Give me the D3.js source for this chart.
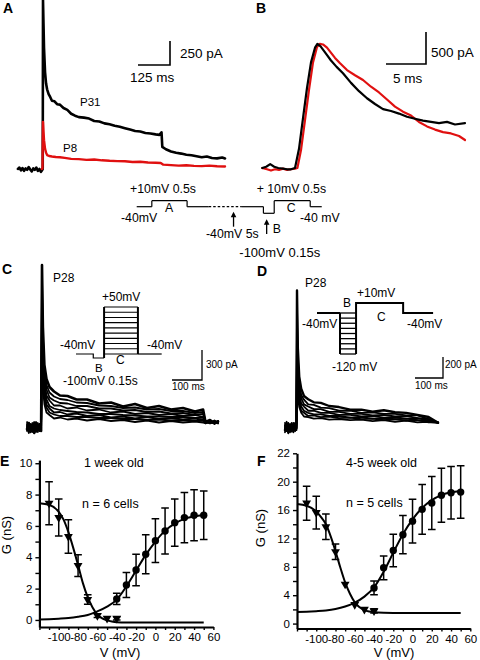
<!DOCTYPE html>
<html><head><meta charset="utf-8">
<script src="https://cdn.jsdelivr.net/npm/d3@7"></script>
<style>
body{margin:0;background:#fff}
svg{display:block}
text{font-family:Arial,"Liberation Sans",Helvetica,sans-serif;fill:#000}
</style>
</head><body>
<svg id="fig" width="480" height="660"></svg>
<script>
// ================= DATA =================
// Panel A : currents (pA) vs time (ms)
const aBlackT = [-98,-92,-86,-80,-74,-68,-62,-56,-50,-44,-38,-32,-26,-20,-14,-8,-3,-1,0,2,4,8,12,16,22,28,35,45,55,66,80,95,110,125,140,160,180,200,220,240,260,280,300,320,340,360,380,400,420,440,455,463,466,480,500,520,540,560,580,600,620,640,660,680,700,711];
const aBlackI = [-10,5,-25,0,-30,-5,-20,10,-15,-35,-5,-20,5,-30,-10,-40,-20,-10,1750,1500,1250,1000,880,820,770,740,700,695,665,660,625,605,565,545,530,525,515,490,485,465,455,440,430,415,400,385,380,365,360,350,345,372,220,195,172,158,150,138,132,122,112,120,104,100,110,100];
const aRedT = [-5,-2,0,2,4,8,12,16,24,35,50,66,85,110,140,170,200,230,260,290,320,350,380,410,440,460,470,500,530,560,590,620,650,680,711];
const aRedI = [-10,-5,480,380,290,200,160,135,125,120,115,112,105,95,92,85,88,80,75,72,70,62,65,58,55,52,35,30,25,28,22,20,25,18,15];

// Panel B : currents (pA) vs time (ms)
const bBlackT = [-4.1,-3.6,-3.1,-2.6,-2.1,-1.5,-1,-0.5,0,0.5,1,1.5,2,2.5,2.8,3.2,3.8,4.5,5.2,6,7,8,9,10,11,12,13,14,15,16,17,18,19,20,21.25];
const bBlackI = [0,20,60,20,0,-10,-20,-20,0,300,780,1250,1650,1880,1940,1900,1800,1680,1580,1480,1330,1200,1090,1000,920,890,850,800,770,740,720,700,720,680,700];
const bRedT = [-4.1,-3.5,-3,-2.5,-2,-1.5,-1,-0.5,0,0.3,0.75,1.25,1.75,2.25,2.75,3.1,3.5,4,5,5.6,6.5,7.5,8.5,9.5,10.5,11.5,12.5,13.5,14.5,15.5,16.5,17.5,18.5,19.5,20.5,21.25];
const bRedI = [0,-20,-40,-20,-30,-10,-30,-20,-10,0,280,750,1220,1650,1890,1940,1930,1880,1720,1640,1530,1450,1375,1270,1180,1070,960,880,820,720,650,600,560,540,500,437];

// Panel C : family of currents (pA) vs time (ms)
const cT = [-50,-44,-38,-32,-26,-20,-14,-8,-3,0,3,8,15,25,40,60,85,115,150,190,230,270,310,350,390,430,470,510,537,545,560,575,587];
const cTr1 = [-20,40,-50,10,-60,30,-30,20,-40,1620,1000,620,480,400,355,315,310,275,275,235,245,205,230,190,210,175,190,155,175,50,70,40,55];
const cTr2 = [30,-40,20,-20,50,-50,10,-30,25,1500,900,560,420,345,305,280,270,245,240,215,210,190,195,175,180,160,160,140,150,60,35,65,45];
const cTr3 = [-40,10,-30,40,-20,0,-50,30,-10,1350,820,500,375,295,265,240,235,210,210,185,185,165,170,150,155,135,140,120,130,40,55,30,60];
const cTr4 = [10,-60,30,-10,-30,50,-20,0,20,1200,720,440,315,265,215,215,185,195,165,175,145,155,130,140,120,130,110,120,100,55,40,60,35];
const cTr5 = [-30,20,-10,-50,30,-20,40,-40,0,1050,640,380,275,210,185,170,160,150,145,130,130,120,115,105,105,100,100,90,95,45,60,40,50];
const cTr6 = [50,-20,-40,20,-10,-40,10,30,-30,900,560,330,225,185,145,150,125,135,110,120,95,105,85,100,80,90,75,85,70,35,50,55,40];
const cTr7 = [-10,30,10,-40,40,-10,-30,-20,30,780,480,280,195,145,125,110,110,100,100,90,90,80,80,70,75,65,70,60,65,50,40,45,60];
const cTr8 = [20,-30,-20,30,-50,10,20,-40,-20,650,400,230,145,120,85,95,75,85,65,80,60,70,50,65,45,60,45,55,45,40,55,35,50];

// Panel D : family of currents (pA) vs time (ms)
const dT = [-43,-37,-31,-25,-19,-13,-7,-2,0,3,8,15,25,40,60,85,115,150,190,230,270,310,350,390,430,470,504];
const dTr1 = [-30,30,-50,10,-40,20,-20,-10,1300,750,480,365,295,265,235,230,200,190,165,165,145,160,140,135,115,95,40];
const dTr2 = [20,-40,0,-30,40,-50,10,30,1150,660,420,305,260,215,210,185,180,155,155,135,140,125,125,110,110,75,45];
const dTr3 = [-20,10,-60,30,-10,0,-40,20,1000,580,370,275,215,195,170,170,145,145,125,125,110,115,100,105,85,75,40];
const dTr4 = [40,-20,20,-40,0,30,-30,-20,850,500,320,225,195,155,155,135,135,115,115,100,105,90,95,80,85,60,45];
const dTr5 = [-50,30,-10,10,-30,-20,40,0,720,430,270,195,155,135,120,120,105,105,90,95,80,85,75,80,65,60,40];
const dTr6 = [10,-30,40,-50,20,-10,-20,30,600,360,230,155,135,105,110,95,100,85,90,75,80,65,75,60,65,45,45];
const dTr7 = [-10,50,-20,0,-40,40,10,-30,500,300,190,135,100,95,80,85,70,75,65,70,55,65,50,60,45,50,40];

// Voltage protocols
const protoLevels = [-40,10,-40,-40,-40,-100,10,-40];
const protoDurs   = [210,490,300,460,300,150,500,160];
const protoDashed = [0,0,0,1,0,0,0,0];
const cInDurs = [240,150,470,330];
const cInLevels = [-40,-30,-20,-10,0,10,20,30,40,50];
const dInDurs = [215,150,440,280];
const dInLevels = [-120,-110,-100,-90,-80,-70,-60,-50,-40];

// Panel E (1 week old)
const eActV = [-40,-30,-20,-10,0,10,20,30,40,50];
const eActG = [1.34,2.23,3.19,4.19,5.06,5.68,6.21,6.53,6.68,6.68];
const eActErr = [0.36,0.79,1.0,1.25,1.4,1.47,1.5,1.6,1.63,1.55];
const eInV = [-110,-100,-90,-80,-70,-60,-50,-40];
const eInG = [7.45,6.53,5.32,3.47,1.3,0.28,0.1,0.1];
const eInErr = [1.37,1.18,1.07,0.69,0.3,0.12,0,0.1];
const eActFitV = [-120,-110,-100,-90,-80,-70,-60,-50,-40,-30,-20,-10,0,10,20,30,40,50];
const eActFitG = [0.03,0.05,0.08,0.12,0.2,0.32,0.55,0.85,1.3,2.15,3.15,4.15,5.0,5.7,6.15,6.45,6.6,6.7];
const eInFitV = [-120,-110,-100,-95,-90,-85,-80,-75,-70,-65,-60,-55,-50,-45,-40,-30,50];
const eInFitG = [7.45,7.35,6.9,6.4,5.6,4.6,3.5,2.35,1.45,0.8,0.35,0.1,-0.03,-0.1,-0.14,-0.16,-0.16];

// Panel F (4-5 week old)
const fActV = [-40,-30,-20,-10,0,10,20,30,40,50];
const fActG = [5.02,7.86,10.3,12.53,14.44,16.1,17.0,18.08,18.44,18.53];
const fActErr = [0.97,1.67,2.3,2.7,3.07,3.5,3.73,3.8,3.7,3.7];
const fInV = [-110,-100,-90,-80,-70,-60,-50,-40];
const fInG = [16.97,15.64,13.64,10.13,5.55,2.67,2.0,1.78];
const fInErr = [2.4,2.3,1.8,1.1,0,0,0,0.3];
const fActFitV = [-120,-110,-100,-90,-80,-70,-60,-50,-40,-30,-20,-10,0,10,20,30,40,50];
const fActFitG = [1.65,1.68,1.75,1.85,2.05,2.4,2.95,3.8,5.1,7.3,10.0,12.6,14.7,16.3,17.4,18.1,18.5,18.7];
const fInFitV = [-120,-110,-100,-95,-90,-85,-80,-75,-70,-65,-60,-55,-50,-45,-40,-30,-20,50];
const fInFitG = [16.85,16.6,15.8,15.0,14.0,12.3,10.2,7.9,5.8,4.2,3.0,2.3,1.9,1.7,1.6,1.52,1.5,1.5];

// Axis ticks
const vTicks = [-120,-110,-100,-90,-80,-70,-60,-50,-40,-30,-20,-10,0,10,20,30,40,50,60];
const vTickLabels = [-100,-80,-60,-40,-20,0,20,40,60];
const eGTicks = [0,1,2,3,4,5,6,7,8,9,10];
const eGTickLabels = [0,2,4,6,8,10];
const fGTicks = [0,2,4,6,8,10,12,14,16,18,20,22,24];
const fGTickValuesLabelled = [0,4,8,12,16,20,24];
const fGTickText = ["0","4","8","12","16","20","22"];

// ================= DRAWING =================
const svg = d3.select("#fig");
function txt(x, y, s, size, opt) {
  opt = opt || {};
  const t = svg.append("text").attr("x", x).attr("y", y).attr("font-size", size).text(s);
  if (opt.bold) t.attr("font-weight", "bold");
  if (opt.anchor) t.attr("text-anchor", opt.anchor);
  return t;
}
function trace(times, vals, xs, ys, color, w) {
  svg.append("path")
    .attr("d", d3.line()(times.map((t, i) => [xs(t), ys(vals[i])])))
    .attr("fill", "none").attr("stroke", color).attr("stroke-width", w)
    .attr("stroke-linejoin", "round").attr("stroke-linecap", "round");
}
function scaleBar(xs, ys, tAmt, iAmt, cx, cy, w) {
  const dx = xs(tAmt) - xs(0), dy = Math.abs(ys(0) - ys(iAmt));
  svg.append("path").attr("d", `M${cx - dx},${cy}H${cx}V${cy - dy}`)
    .attr("fill", "none").attr("stroke", "#000").attr("stroke-width", w);
}
function seg(d, w, dash) {
  const p = svg.append("path").attr("d", d).attr("fill", "none").attr("stroke", "#000").attr("stroke-width", w);
  if (dash) p.attr("stroke-dasharray", dash);
  return p;
}

// ---------- Panel A ----------
const xA = d3.scaleLinear().domain([0, 125]).range([43, 75]);
const yA = d3.scaleLinear().domain([0, 250]).range([168, 144]);
trace(aBlackT, aBlackI, xA, yA, "#000", 2.6);
trace(aRedT, aRedI, xA, yA, "#e01010", 2.4);
scaleBar(xA, yA, 125, 250, 170, 65, 1.6);
txt(3, 13, "A", 14, {bold: true});
txt(180, 58, "250 pA", 13.5);
txt(130, 82, "125 ms", 13.5);
txt(80, 106, "P31", 11.5);
txt(63, 152, "P8", 11.5);

// ---------- Panel B ----------
const xB = d3.scaleLinear().domain([0, 5]).range([295, 335]);
const yB = d3.scaleLinear().domain([0, 500]).range([168, 136]);
trace(bRedT, bRedI, xB, yB, "#e01010", 2.2);
trace(bBlackT, bBlackI, xB, yB, "#000", 2.2);
scaleBar(xB, yB, 5, 500, 426, 64, 1.6);
txt(256, 13, "B", 14, {bold: true});
txt(431, 57, "500 pA", 13.5);
txt(393, 83, "5 ms", 13.5);

// ---------- Top protocol ----------
const xP = d3.scaleLinear().domain([0, 1000]).range([136.7, 208.7]);
const yP = d3.scaleLinear().domain([-100, -40, 10]).range([213.3, 206.7, 200.7]);
{
  let t = 0, prev = protoLevels[0];
  protoLevels.forEach((lv, i) => {
    const x0 = xP(t), x1 = xP(t + protoDurs[i]);
    if (lv !== prev) seg(`M${x0},${yP(prev)}V${yP(lv)}`, 1.2);
    seg(`M${x0},${yP(lv)}H${x1}`, 1.2, protoDashed[i] ? "2.5,2" : null);
    prev = lv; t += protoDurs[i];
  });
  const arrowT = [1345, 1805];
  const arrowTop = [211.7, 219.3], arrowBot = [226.7, 234];
  arrowT.forEach((at, i) => {
    const ax = xP(at);
    seg(`M${ax},${arrowBot[i]}V${arrowTop[i] + 4}`, 1.3);
    svg.append("path").attr("d", `M${ax - 2.8},${arrowTop[i] + 5.5}L${ax},${arrowTop[i]}L${ax + 2.8},${arrowTop[i] + 5.5}Z`).attr("fill", "#000");
  });
}
txt(130, 192.5, "+10mV 0.5s", 12.3);
txt(165, 211.7, "A", 12.3);
txt(121, 222.3, "-40mV", 12.3);
txt(256.7, 192.5, "+ 10mV 0.5s", 12.3);
txt(286.7, 211.7, "C", 12.3);
txt(300, 222.3, "-40 mV", 12.3);
txt(206, 238.3, "-40mV 5s", 12.3);
txt(272.7, 233.3, "B", 12.3);
txt(239.3, 257.3, "-100mV 0.15s", 13);

// ---------- Panel C ----------
const xC = d3.scaleLinear().domain([0, 100]).range([42, 72]);
const yC = d3.scaleLinear().domain([0, 300]).range([427, 397]);
[cTr8, cTr7, cTr6, cTr5, cTr4, cTr3, cTr2].forEach(v => trace(cT, v, xC, yC, "#000", 1.8));
trace(cT, cTr1, xC, yC, "#000", 2.6);
scaleBar(xC, yC, 100, 300, 202, 380, 1.3);
txt(2, 274, "C", 14, {bold: true});
txt(53, 282, "P28", 12);
txt(206, 368, "300 pA", 10);
txt(172, 390, "100 ms", 10);
{
  const xCi = d3.scaleLinear().domain([0, 1000]).range([76, 148]);
  const yCi = d3.scaleLinear().domain([-100, -40, 50]).range([358, 354, 307]);
  const t1 = cInDurs[0], t2 = t1 + cInDurs[1], t3 = t2 + cInDurs[2], t4 = t3 + cInDurs[3];
  seg(`M${xCi(0)},${yCi(-40)}H${xCi(t1)}V${yCi(-100)}H${xCi(t2)}`, 1.2);
  cInLevels.forEach(lv => seg(`M${xCi(t2)},${yCi(lv)}H${xCi(t3)}`, 1.1));
  seg(`M${xCi(t2)},${yCi(-100)}V${yCi(50)}`, 2);
  seg(`M${xCi(t3)},${yCi(50)}V${yCi(-40)}`, 2);
  seg(`M${xCi(t3)},${yCi(-40)}H${xCi(t4)}`, 1.2);
}
txt(102, 301, "+50mV", 12);
txt(60, 349, "-40mV", 12);
txt(147, 349, "-40mV", 12);
txt(116, 364, "C", 12);
txt(95, 371.5, "B", 11.5);
txt(63, 385, "-100mV 0.15s", 12);

// ---------- Panel D ----------
const xD = d3.scaleLinear().domain([0, 100]).range([297, 325]);
const yD = d3.scaleLinear().domain([0, 200]).range([427, 406]);
[dTr7, dTr6, dTr5, dTr4, dTr3, dTr2].forEach(v => trace(dT, v, xD, yD, "#000", 1.8));
trace(dT, dTr1, xD, yD, "#000", 2.4);
scaleBar(xD, yD, 100, 200, 443, 378, 1.3);
txt(257, 276, "D", 14, {bold: true});
txt(305, 287, "P28", 12);
txt(445, 368, "200 pA", 10);
txt(415, 389, "100 ms", 10);
{
  const xDi = d3.scaleLinear().domain([0, 1000]).range([317, 424]);
  const yDi = d3.scaleLinear().domain([-120, -40, 10]).range([354, 313, 303]);
  const t1 = dInDurs[0], t2 = t1 + dInDurs[1], t3 = t2 + dInDurs[2], t4 = t3 + dInDurs[3];
  seg(`M${xDi(0)},${yDi(-40)}H${xDi(t1)}`, 2);
  dInLevels.forEach(lv => seg(`M${xDi(t1)},${yDi(lv)}H${xDi(t2)}`, 1.3));
  seg(`M${xDi(t1)},${yDi(-40)}V${yDi(-120)}`, 2);
  seg(`M${xDi(t2)},${yDi(-120)}V${yDi(10)}H${xDi(t3)}V${yDi(-40)}H${xDi(t4)}`, 2);
}
txt(357, 297, "+10mV", 12);
txt(343, 307, "B", 12);
txt(302, 328, "-40mV", 12);
txt(377, 321, "C", 12);
txt(407, 328, "-40mV", 12);
txt(332, 371, "-120 mV", 12);

// ---------- G-V panels ----------
function gvPanel(o) {
  const g = svg.append("g");
  const x = o.x, y = o.y;
  const line = d3.line().x(d => x(d[0])).y(d => y(d[1])).curve(d3.curveMonotoneX);
  g.append("path").attr("d", line(o.actFitV.map((v, i) => [v, o.actFitG[i]])))
    .attr("fill", "none").attr("stroke", "#000").attr("stroke-width", 2);
  g.append("path").attr("d", line(o.inFitV.map((v, i) => [v, o.inFitG[i]])))
    .attr("fill", "none").attr("stroke", "#000").attr("stroke-width", 2);
  const bars = (V, G, E) => V.forEach((v, i) => {
    if (!E[i]) return;
    const xx = x(v), y1 = y(G[i] + E[i]), y2 = y(G[i] - E[i]);
    g.append("path").attr("d", `M${xx},${y1}V${y2}M${xx - 3.8},${y1}H${xx + 3.8}M${xx - 3.8},${y2}H${xx + 3.8}`)
      .attr("fill", "none").attr("stroke", "#000").attr("stroke-width", 1.5);
  });
  bars(o.actV, o.actG, o.actErr);
  bars(o.inV, o.inG, o.inErr);
  g.selectAll("circle.act").data(o.actV).enter().append("circle")
    .attr("cx", d => x(d)).attr("cy", (d, i) => y(o.actG[i])).attr("r", 3.7).attr("fill", "#000");
  const tri = d3.symbol().type(d3.symbolTriangle).size(34);
  g.selectAll("path.tri").data(o.inV).enter().append("path")
    .attr("d", tri).attr("fill", "#000")
    .attr("transform", (d, i) => `translate(${x(d)},${y(o.inG[i])}) rotate(180)`);
  const ax = g.append("g").attr("transform", `translate(0,${o.xAxisY})`)
    .call(d3.axisBottom(x).tickValues(vTicks).tickSize(3).tickSizeOuter(0).tickPadding(3)
      .tickFormat(d => vTickLabels.includes(d) ? String(d) : ""));
  const ay = g.append("g").attr("transform", `translate(${x.range()[0]},0)`)
    .call(d3.axisLeft(y).tickValues(o.gTicks).tickSize(4).tickSizeOuter(0).tickPadding(3)
      .tickFormat(o.gFormat));
  [ax, ay].forEach(a => {
    a.select(".domain").attr("stroke-width", 2.2);
    a.selectAll(".tick line").attr("stroke-width", 1.4);
    a.selectAll("text").attr("font-size", 11.5).attr("font-family", 'Arial,"Liberation Sans",sans-serif');
  });
}

const xE = d3.scaleLinear().domain([-120, 60]).range([39.4, 213.4]);
const yE = d3.scaleLinear().domain([-0.45, 10.2]).range([627, 460.1]);
gvPanel({x: xE, y: yE, xAxisY: 627, actV: eActV, actG: eActG, actErr: eActErr,
  inV: eInV, inG: eInG, inErr: eInErr, actFitV: eActFitV, actFitG: eActFitG,
  inFitV: eInFitV, inFitG: eInFitG, gTicks: eGTicks,
  gFormat: d => eGTickLabels.includes(d) ? String(d) : ""});
txt(0, 466, "E", 14, {bold: true});
txt(84, 467, "1 week old", 12.5);
txt(82, 508, "n = 6 cells", 12.5);
txt(120, 657, "V (mV)", 13, {anchor: "middle"});
svg.append("text").attr("transform", "translate(11,535) rotate(-90)").attr("text-anchor", "middle")
  .attr("font-size", 13).text("G (nS)");

const xF = d3.scaleLinear().domain([-120, 60]).range([297, 470.3]);
const yF = d3.scaleLinear().domain([-0.7, 24]).range([628.55, 453.3]);
gvPanel({x: xF, y: yF, xAxisY: 628.5, actV: fActV, actG: fActG, actErr: fActErr,
  inV: fInV, inG: fInG, inErr: fInErr, actFitV: fActFitV, actFitG: fActFitG,
  inFitV: fInFitV, inFitG: fInFitG, gTicks: fGTicks,
  gFormat: d => { const k = fGTickValuesLabelled.indexOf(d); return k >= 0 ? fGTickText[k] : ""; }});
txt(257, 466, "F", 14, {bold: true});
txt(346, 467, "4-5 week old", 12.5);
txt(346, 507, "n = 5 cells", 12.5);
txt(394, 657, "V (mV)", 13, {anchor: "middle"});
svg.append("text").attr("transform", "translate(265,528) rotate(-90)").attr("text-anchor", "middle")
  .attr("font-size", 13).text("G (nS)");
</script>
</body></html>
